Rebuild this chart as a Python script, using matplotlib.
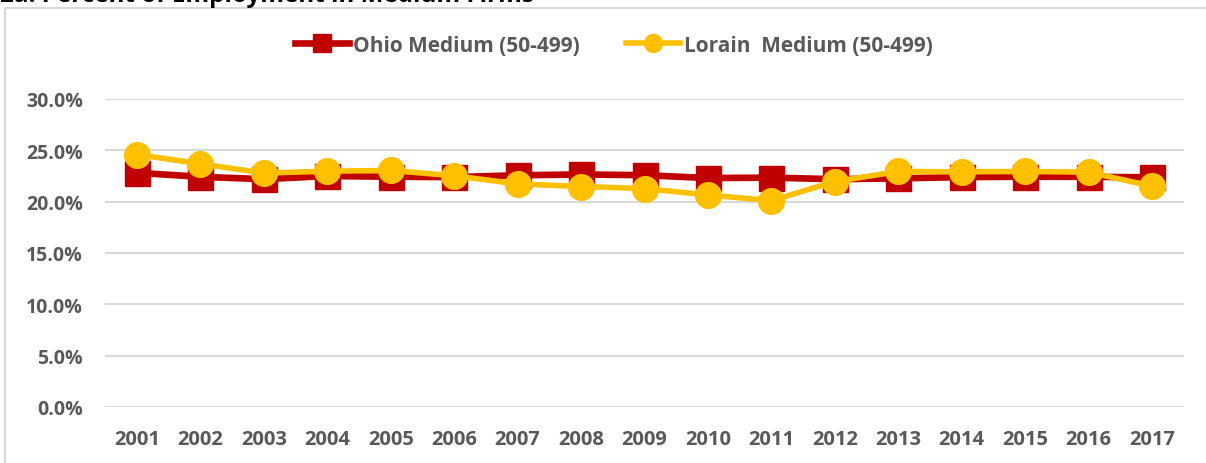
import matplotlib
matplotlib.use("Agg")
import matplotlib.pyplot as plt
from matplotlib.patches import Rectangle

years = ["2001", "2002", "2003", "2004", "2005", "2006", "2007", "2008", "2009",
         "2010", "2011", "2012", "2013", "2014", "2015", "2016", "2017"]
ohio = [22.81, 22.42, 22.19, 22.50, 22.43, 22.39, 22.57, 22.65, 22.58,
        22.30, 22.34, 22.19, 22.27, 22.39, 22.43, 22.42, 22.37]
lorain = [24.58, 23.69, 22.78, 22.97, 23.04, 22.52, 21.73, 21.47, 21.28,
          20.65, 20.10, 21.96, 22.94, 22.91, 22.94, 22.88, 21.50]
yticks = [0, 5, 10, 15, 20, 25, 30]
ytick_labels = ["0.0%", "5.0%", "10.0%", "15.0%", "20.0%", "25.0%", "30.0%"]
ohio_label = "Ohio Medium (50-499)"
lorain_label = "Lorain  Medium (50-499)"
title = "2a: Percent of Employment in Medium Firms"

W, H = 1206, 464
plt.rcParams['font.family'] = ['Open Sans', 'DejaVu Sans']
fig = plt.figure(figsize=(W / 100, H / 100), dpi=100)

# chart-area border
fig.patches.append(Rectangle((5 / W, 0 - 0.01), 1.2, 1 - 9 / H + 0.01,
                             transform=fig.transFigure, fill=False,
                             edgecolor="#d9d9d9", linewidth=1.5))
fig.text(0 / W, 1 - 1.5 / H, title, fontsize=17.5, fontweight="bold",
         color="black", ha="left", va="baseline")

ax = fig.add_axes([105.3 / W, 1 - 408 / H, (1183.7 - 105.3) / W, (408 - 100) / H])
x = list(range(len(years)))
ax.plot(x, ohio, color="#C00000", linewidth=4.8, marker="s", markersize=18,
        label=ohio_label, zorder=3)
ax.plot(x, lorain, color="#FFC000", linewidth=4.0, marker="o", markersize=18.5,
        label=lorain_label, zorder=4)

ax.set_xlim(-0.5, len(years) - 0.5)
ax.set_ylim(0, 30)
ax.set_yticks(yticks)
ax.set_yticklabels(ytick_labels)
ax.set_xticks(x)
ax.set_xticklabels(years)
for s in ax.spines.values():
    s.set_visible(False)
ax.grid(axis="y", color="#d9d9d9", linewidth=1.5)
ax.set_axisbelow(True)
ax.tick_params(axis="both", length=0, labelcolor="#595959")
ax.tick_params(axis="y", pad=16, labelsize=14)
ax.tick_params(axis="x", pad=16, labelsize=14.5)
for lab in ax.get_xticklabels() + ax.get_yticklabels():
    lab.set_fontweight("bold")

leg = ax.legend(loc="center", bbox_to_anchor=(614 / W, 1 - 46 / H),
                bbox_transform=fig.transFigure, ncol=2, frameon=False,
                prop={"size": 15, "weight": "bold"}, handlelength=2.6,
                handletextpad=0.2, columnspacing=2.2, markerscale=0.7)
for t in leg.get_texts():
    t.set_color("#595959")

fig.savefig("out.png", dpi=100)
